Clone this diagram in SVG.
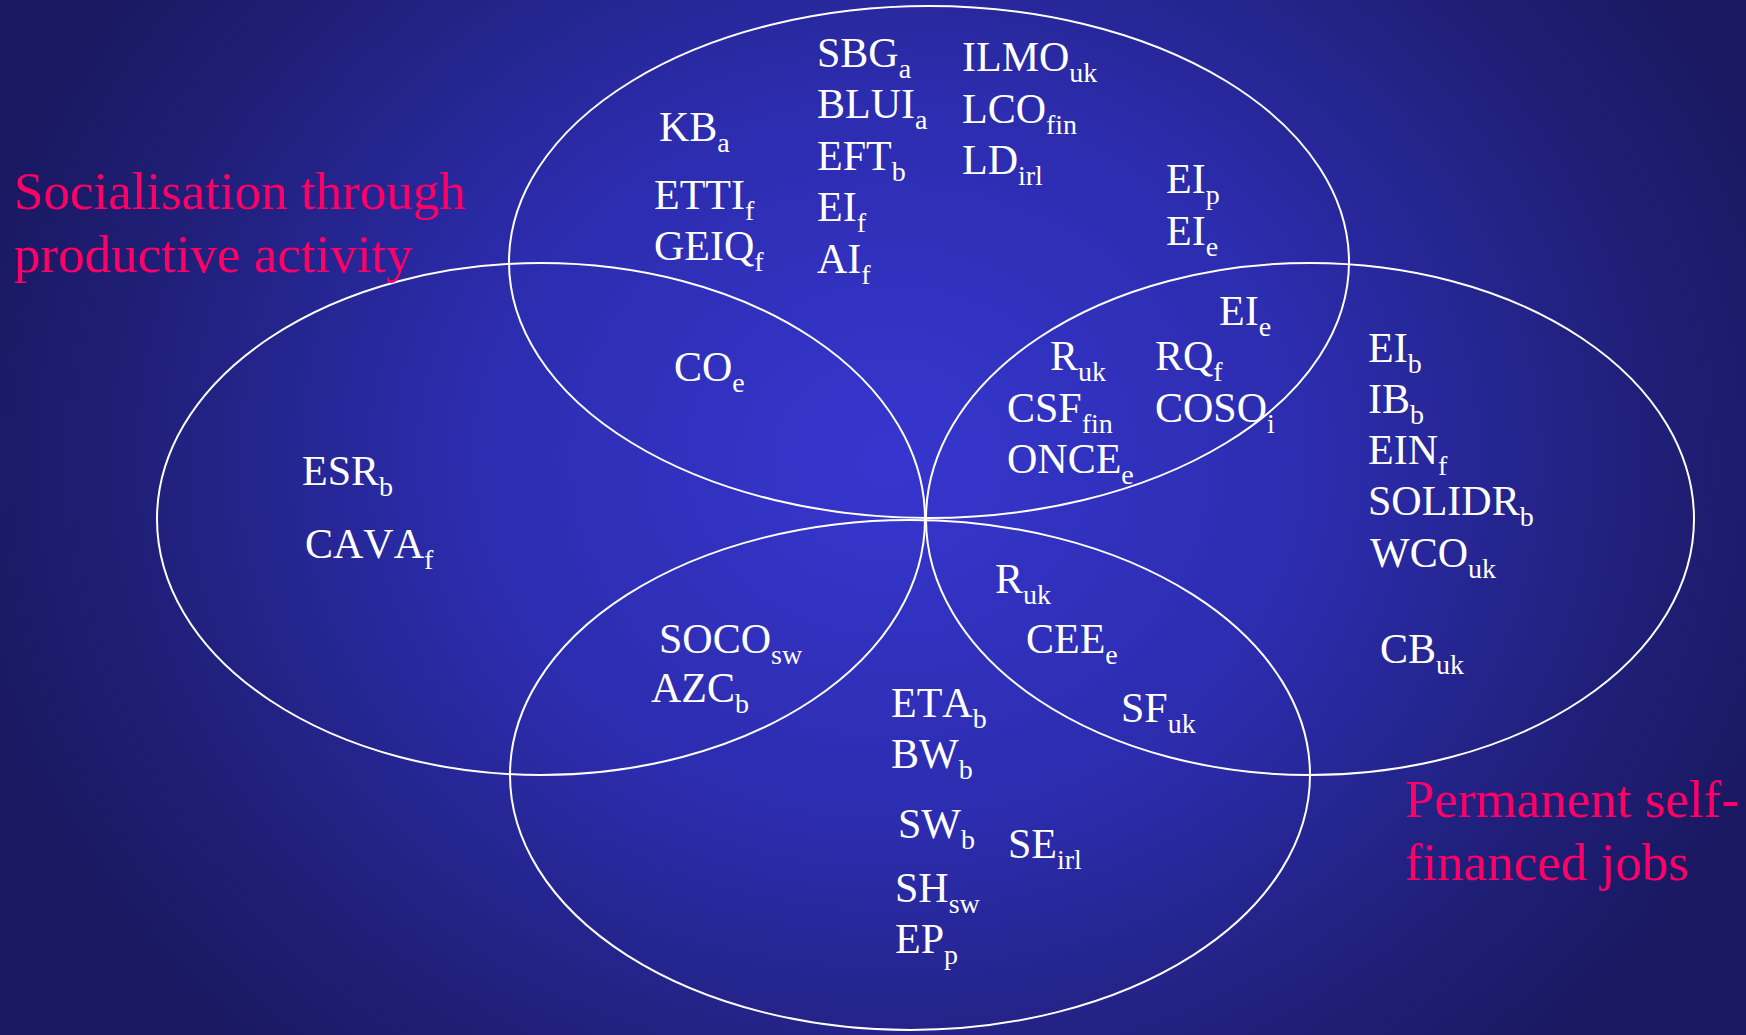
<svg xmlns="http://www.w3.org/2000/svg" width="1746" height="1035" viewBox="0 0 1746 1035">
<defs>
<radialGradient id="bg" gradientUnits="userSpaceOnUse" cx="0" cy="0" r="1" gradientTransform="translate(890 460) scale(950 820)">
<stop offset="0" stop-color="#3636cf"/>
<stop offset="0.45" stop-color="#2c2cae"/>
<stop offset="0.8" stop-color="#1f1f78"/>
<stop offset="1" stop-color="#1a1860"/>
</radialGradient>
<style>
.set{fill:none;stroke:#ffffff;stroke-width:2}
.lab{font-family:"Liberation Serif","Times New Roman",serif;font-size:42px;fill:#ffffff;font-kerning:none}
.sub{font-size:28px}
.title{font-family:"Liberation Serif","Times New Roman",serif;font-size:53px;fill:#ff0066;font-kerning:none}
</style>
</defs>
<rect x="0" y="0" width="1746" height="1035" fill="url(#bg)"/>

<g id="set-top"><ellipse class="set" cx="929" cy="262" rx="420" ry="256"/></g>
<g id="set-left"><ellipse class="set" cx="541" cy="519" rx="384" ry="256"/></g>
<g id="set-right"><ellipse class="set" cx="1310" cy="519" rx="384" ry="256"/></g>
<g id="set-bottom"><ellipse class="set" cx="910" cy="775" rx="400" ry="255"/></g>

<g id="title-left">
<text class="title" x="14" y="209">Socialisation through</text>
<text class="title" x="14" y="272">productive activity</text>
</g>
<g id="title-right">
<text class="title" x="1405" y="817">Permanent self-</text>
<text class="title" x="1405" y="880">financed jobs</text>
</g>

<g id="labels-top">
<text class="lab" x="817" y="67">SBG<tspan class="sub" dy="11">a</tspan></text>
<text class="lab" x="817" y="118">BLUI<tspan class="sub" dy="11">a</tspan></text>
<text class="lab" x="817" y="170">EFT<tspan class="sub" dy="11">b</tspan></text>
<text class="lab" x="817" y="221">EI<tspan class="sub" dy="11">f</tspan></text>
<text class="lab" x="817" y="273">AI<tspan class="sub" dy="11">f</tspan></text>
<text class="lab" x="659" y="141">KB<tspan class="sub" dy="11">a</tspan></text>
<text class="lab" x="654" y="209">ETTI<tspan class="sub" dy="11">f</tspan></text>
<text class="lab" x="654" y="260">GEIQ<tspan class="sub" dy="11">f</tspan></text>
<text class="lab" x="962" y="71">ILMO<tspan class="sub" dy="11">uk</tspan></text>
<text class="lab" x="962" y="123">LCO<tspan class="sub" dy="11">fin</tspan></text>
<text class="lab" x="962" y="174">LD<tspan class="sub" dy="11">irl</tspan></text>
<text class="lab" x="1166" y="193">EI<tspan class="sub" dy="11">p</tspan></text>
<text class="lab" x="1166" y="245">EI<tspan class="sub" dy="11">e</tspan></text>
</g>

<g id="labels-top-left">
<text class="lab" x="674" y="381">CO<tspan class="sub" dy="11">e</tspan></text>
</g>

<g id="labels-top-right">
<text class="lab" x="1219" y="325">EI<tspan class="sub" dy="11">e</tspan></text>
<text class="lab" x="1050" y="370">R<tspan class="sub" dy="11">uk</tspan></text>
<text class="lab" x="1155" y="370">RQ<tspan class="sub" dy="11">f</tspan></text>
<text class="lab" x="1007" y="422">CSF<tspan class="sub" dy="11">fin</tspan></text>
<text class="lab" x="1155" y="422">COSO<tspan class="sub" dy="11">i</tspan></text>
<text class="lab" x="1007" y="473">ONCE<tspan class="sub" dy="11">e</tspan></text>
</g>

<g id="labels-left">
<text class="lab" x="302" y="485">ESR<tspan class="sub" dy="11">b</tspan></text>
<text class="lab" x="305" y="558">CAVA<tspan class="sub" dy="11">f</tspan></text>
</g>

<g id="labels-right">
<text class="lab" x="1368" y="362">EI<tspan class="sub" dy="11">b</tspan></text>
<text class="lab" x="1368" y="413">IB<tspan class="sub" dy="11">b</tspan></text>
<text class="lab" x="1368" y="464">EIN<tspan class="sub" dy="11">f</tspan></text>
<text class="lab" x="1368" y="515">SOLIDR<tspan class="sub" dy="11">b</tspan></text>
<text class="lab" x="1370" y="567">WCO<tspan class="sub" dy="11">uk</tspan></text>
<text class="lab" x="1380" y="663">CB<tspan class="sub" dy="11">uk</tspan></text>
</g>

<g id="labels-bottom-left">
<text class="lab" x="659" y="653">SOCO<tspan class="sub" dy="11">sw</tspan></text>
<text class="lab" x="651" y="702">AZC<tspan class="sub" dy="11">b</tspan></text>
</g>

<g id="labels-bottom-right">
<text class="lab" x="995" y="593">R<tspan class="sub" dy="11">uk</tspan></text>
<text class="lab" x="1026" y="653">CEE<tspan class="sub" dy="11">e</tspan></text>
<text class="lab" x="1121" y="722">SF<tspan class="sub" dy="11">uk</tspan></text>
</g>

<g id="labels-bottom">
<text class="lab" x="891" y="717">ETA<tspan class="sub" dy="11">b</tspan></text>
<text class="lab" x="891" y="768">BW<tspan class="sub" dy="11">b</tspan></text>
<text class="lab" x="898" y="838">SW<tspan class="sub" dy="11">b</tspan></text>
<text class="lab" x="1008" y="858">SE<tspan class="sub" dy="11">irl</tspan></text>
<text class="lab" x="895" y="902">SH<tspan class="sub" dy="11">sw</tspan></text>
<text class="lab" x="895" y="953">EP<tspan class="sub" dy="11">p</tspan></text>
</g>
</svg>
